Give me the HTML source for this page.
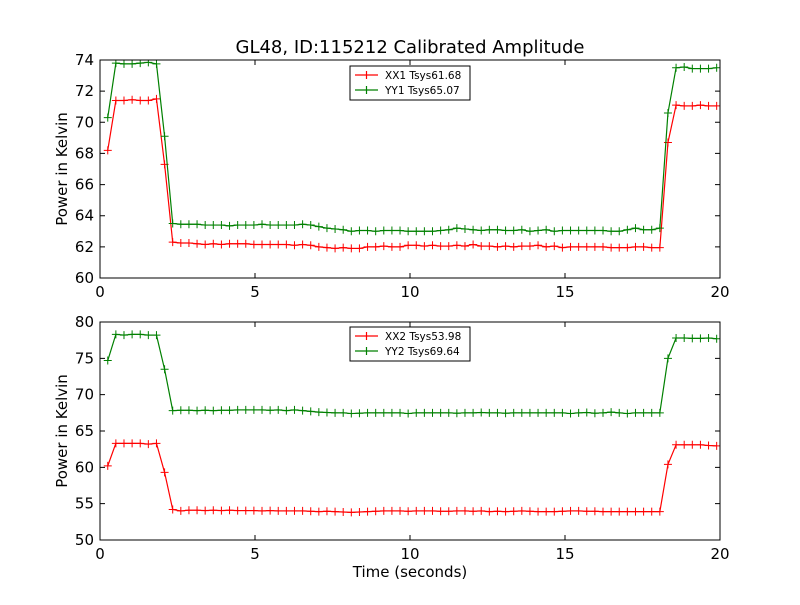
<!DOCTYPE html>
<html><head><meta charset="utf-8"><style>
body{margin:0;background:#fff;font-family:"Liberation Sans","DejaVu Sans",sans-serif}
svg text{font-family:"DejaVu Sans","Liberation Sans",sans-serif}
</style></head><body>
<svg id="fig" width="800" height="600" xmlns="http://www.w3.org/2000/svg">
<rect width="800" height="600" fill="#fff"/>
<text x="410" y="53" font-size="18" text-anchor="middle">GL48, ID:115212 Calibrated Amplitude</text>
<text x="410" y="577" font-size="15" text-anchor="middle">Time (seconds)</text>
</svg>
<script>
const xTicks=[0,5,10,15,20];
const topYTicks=[60,62,64,66,68,70,72,74];
const botYTicks=[50,55,60,65,70,75,80];
const xx1=[68.2,71.4,71.4,71.45,71.4,71.4,71.5,67.3,
62.3,62.25,62.25,62.2,62.15,62.2,62.15,62.2,62.2,62.2,62.15,62.15,62.15,62.15,62.15,62.1,62.15,62.1,62.0,61.95,61.9,61.95,61.9,61.9,62.0,62.0,62.05,62.0,62.0,62.1,62.1,62.05,62.1,62.05,62.05,62.1,62.05,62.15,62.05,62.05,62.0,62.05,62.0,62.05,62.05,62.1,62.0,62.05,61.95,62.0,62.0,62.0,62.0,62.0,61.95,61.95,61.95,62.0,62.0,61.95,
61.95,68.7,71.1,71.05,71.05,71.1,71.05,71.05];
const yy1=[70.3,73.8,73.75,73.75,73.8,73.85,73.75,69.1,
63.5,63.45,63.45,63.45,63.4,63.4,63.4,63.35,63.4,63.4,63.4,63.45,63.4,63.4,63.4,63.4,63.45,63.4,63.3,63.2,63.15,63.1,63.0,63.05,63.05,63.0,63.05,63.05,63.05,63.0,63.0,63.0,63.0,63.05,63.1,63.2,63.15,63.1,63.05,63.1,63.1,63.05,63.05,63.1,63.0,63.05,63.1,63.0,63.05,63.05,63.05,63.05,63.05,63.05,63.0,63.0,63.1,63.2,63.1,63.1,
63.2,70.6,73.5,73.55,73.45,73.45,73.45,73.5];
const xx2=[60.2,63.3,63.3,63.3,63.3,63.2,63.3,59.3,
54.2,54.0,54.1,54.1,54.05,54.1,54.05,54.1,54.05,54.05,54.05,54.0,54.05,54.0,54.0,54.0,54.0,53.95,53.9,53.95,53.9,53.85,53.8,53.85,53.9,53.95,54.0,54.0,54.0,53.95,54.0,54.0,54.0,53.95,53.95,54.0,54.0,53.95,54.0,53.9,53.95,53.9,53.95,54.0,53.95,53.9,53.9,53.9,53.95,54.0,54.0,53.95,53.95,53.9,53.9,53.9,53.9,53.9,53.9,53.9,
53.9,60.4,63.1,63.1,63.1,63.1,63.0,62.95];
const yy2=[74.7,78.3,78.2,78.3,78.3,78.2,78.2,73.5,
67.8,67.85,67.85,67.8,67.85,67.8,67.85,67.85,67.9,67.9,67.9,67.9,67.85,67.9,67.8,67.9,67.8,67.7,67.6,67.55,67.5,67.5,67.4,67.45,67.5,67.5,67.5,67.5,67.5,67.4,67.5,67.5,67.5,67.5,67.5,67.45,67.5,67.5,67.55,67.5,67.5,67.45,67.5,67.5,67.5,67.5,67.5,67.5,67.5,67.4,67.5,67.55,67.45,67.5,67.6,67.5,67.4,67.5,67.5,67.5,
67.5,75.0,77.8,77.8,77.75,77.75,77.8,77.7];
const t0=0.25, dt=0.2619;
const NS="http://www.w3.org/2000/svg";
const svg=document.getElementById('fig');
function mk(tag,attrs,parent){const e=document.createElementNS(NS,tag);for(const k in attrs)e.setAttribute(k,attrs[k]);(parent||svg).appendChild(e);return e;}
function panel(L,T,R,B,ymin,ymax,yTicks,series,names,legendY,id){
  const xs=v=>L+(v-0)/20*(R-L);
  const ys=v=>B-(v-ymin)/(ymax-ymin)*(B-T);
  const g=mk('g',{});
  
  
  mk('defs',{},g).innerHTML=`<clipPath id="c${id}"><rect x="${L}" y="${T}" width="${R-L}" height="${B-T}"/></clipPath>`;
  series.forEach((s,si)=>{
    const col=si==0?'#ff0000':'#008000';
    const sg=mk('g',{'clip-path':`url(#c${id})`},g);
    
    
    const pts=s.vals.map((v,i)=>[xs(t0+i*dt),ys(v)]);
    mk('polyline',{points:pts.map(p=>p.join(',')).join(' '),fill:'none',stroke:col,'stroke-width':1.2},sg);
    pts.forEach(p=>{mk('path',{d:`M${p[0]-4},${p[1]}h8M${p[0]},${p[1]-4}v8`,stroke:col,'stroke-width':1},sg);});
  });
  mk('rect',{x:L,y:T,width:R-L,height:B-T,fill:'none',stroke:'#000','stroke-width':1},g);
  xTicks.forEach(v=>{const x=xs(v);
    mk('path',{d:`M${x},${B}v-5M${x},${T}v5`,stroke:'#000'},g);
    const t=mk('text',{x:x,y:B+19,'font-size':15,'text-anchor':'middle'},g);t.textContent=v;
    
    });
  yTicks.forEach(v=>{const y=ys(v);
    mk('path',{d:`M${L},${y}h5M${R},${y}h-5`,stroke:'#000'},g);
    const t=mk('text',{x:L-6,y:y+5,'font-size':15,'text-anchor':'end'},g);t.textContent=v;
    
    });
  const yl=mk('text',{x:0,y:0,'font-size':15,'text-anchor':'middle',transform:`translate(67,${(T+B)/2}) rotate(-90)`},g);
  yl.textContent='Power in Kelvin';
  
  
  const lg=mk('g',{},g);
  
  
  mk('rect',{x:350,y:legendY,width:120,height:34,fill:'#fff',stroke:'#000','stroke-width':1},lg);
  names.forEach((n,i)=>{const col=i==0?'#ff0000':'#008000';const y=legendY+9+i*15;
    mk('path',{d:`M355,${y}h23M366.5,${y-4}v8`,stroke:col,'stroke-width':1.2},lg);
    const t=mk('text',{x:385,y:y+4,'font-size':10.5},lg);t.textContent=n;
    
    });
}
panel(100,60,720,278,60,74,topYTicks,[{vals:xx1},{vals:yy1}],['XX1 Tsys61.68','YY1 Tsys65.07'],66,'top');
panel(100,322,720,540,50,80,botYTicks,[{vals:xx2},{vals:yy2}],['XX2 Tsys53.98','YY2 Tsys69.64'],327,'bottom');
</script>
</body></html>
